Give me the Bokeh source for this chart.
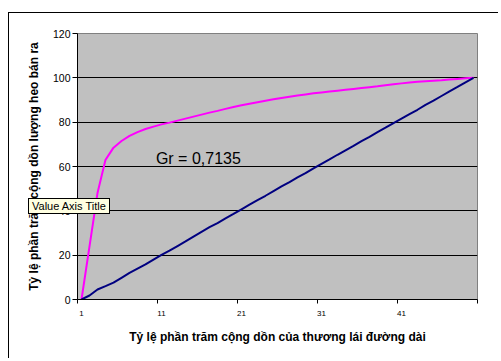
from bokeh.plotting import figure
from bokeh.models import Range1d, FixedTicker, Label, Div
from bokeh.embed import file_html
from bokeh.resources import INLINE

# Categories (cumulative % of long-distance traders, category index)
categories = list(range(1, 51))

# Cumulative % of pigs sold (Lorenz curve)
lorenz = [0, 24, 48, 63, 68.5, 71.5, 73.8, 75.5, 76.9, 78.0,
          79.0, 79.8, 80.7, 81.6, 82.5, 83.4, 84.3, 85.1, 86.0, 86.8,
          87.6, 88.3, 89.0, 89.7, 90.3, 90.9, 91.5, 92.0, 92.5, 93.0,
          93.4, 93.8, 94.2, 94.6, 95.0, 95.4, 95.8, 96.2, 96.7, 97.1,
          97.5, 97.9, 98.2, 98.5, 98.7, 98.9, 99.2, 99.5, 99.8, 100]

# Line of equality
equality = [0, 1.8, 4.5, 6.0, 7.6, 9.8, 12.0, 13.9, 15.8, 18.0,
            20.1, 22.0, 24.1, 26.2, 28.4, 30.5, 32.6, 34.5, 36.6, 38.6,
            40.7, 42.8, 44.8, 46.8, 48.9, 51.0, 53.0, 55.1, 57.0, 59.2,
            61.2, 63.2, 65.3, 67.3, 69.3, 71.4, 73.4, 75.5, 77.5, 79.6,
            81.6, 83.6, 85.6, 87.8, 89.7, 91.8, 93.9, 95.9, 98.0, 100]

x_tick_values = [1, 11, 21, 31, 41]
y_tick_values = [0, 20, 40, 60, 80, 100, 120]

gini_text = "Gr = 0,7135"
x_title = "Tỷ lệ phần trăm cộng dồn của thương lái đường dài"
y_title = "Tỷ lệ phần trăm cộng dồn lượng heo bán ra"
tooltip_text = "Value Axis Title"

tip = Div(text=tooltip_text,
          styles={"position": "absolute", "left": "19px", "top": "185px",
                  "background-color": "#FFFFE1", "border": "1px solid black",
                  "font-family": "'Liberation Sans', Arial, sans-serif",
                  "font-size": "11px", "line-height": "14px",
                  "padding": "0px 3px", "color": "black",
                  "white-space": "nowrap", "z-index": "10"})

p = figure(width=490, height=346, output_backend="svg", toolbar_location=None,
           x_range=Range1d(0.5, 50.5), y_range=Range1d(0, 120),
           min_border_left=68, min_border_right=22, min_border_top=20,
           min_border_bottom=60, margin=(12, 0, 0, 8),
           styles={"border-top": "1px solid black", "border-left": "1px solid black"})
p.elements.append(tip)

p.background_fill_color = "#C0C0C0"
p.border_fill_color = "white"
p.outline_line_color = "#808080"
p.outline_line_width = 1

# y axis
p.yaxis.ticker = FixedTicker(ticks=y_tick_values)
p.yaxis.major_tick_out = 5
p.yaxis.major_tick_in = 0
p.yaxis.minor_tick_out = 0
p.yaxis.minor_tick_in = 0
p.yaxis.major_label_standoff = 2
p.yaxis.major_label_text_font = "Liberation Sans"
p.yaxis.major_label_text_font_size = "10.5px"
p.yaxis.major_label_text_color = "black"
p.yaxis.axis_line_color = "black"
p.yaxis.major_tick_line_color = "black"
p.yaxis.axis_label = y_title
p.yaxis.axis_label_text_font = "Liberation Sans"
p.yaxis.axis_label_text_font_style = "bold"
p.yaxis.axis_label_text_font_size = "12px"
p.yaxis.axis_label_text_color = "black"
p.yaxis.axis_label_standoff = 9

# x axis
p.xaxis.ticker = FixedTicker(ticks=x_tick_values,
                             minor_ticks=[0.5, 10.5, 20.5, 30.5, 40.5, 50.5])
p.xaxis.major_tick_out = 0
p.xaxis.major_tick_in = 0
p.xaxis.minor_tick_out = 4
p.xaxis.minor_tick_in = 0
p.xaxis.minor_tick_line_color = "black"
p.xaxis.major_label_standoff = 7
p.xaxis.major_label_text_font = "Liberation Sans"
p.xaxis.major_label_text_font_size = "8px"
p.xaxis.major_label_text_color = "black"
p.xaxis.axis_line_color = "black"
p.xaxis.axis_label = x_title
p.xaxis.axis_label_text_font = "Liberation Sans"
p.xaxis.axis_label_text_font_style = "bold"
p.xaxis.axis_label_text_font_size = "12px"
p.xaxis.axis_label_text_color = "black"
p.xaxis.axis_label_standoff = 11

# grid
p.xgrid.visible = False
p.ygrid.ticker = FixedTicker(ticks=[20, 40, 60, 80, 100])
p.ygrid.grid_line_color = "black"
p.ygrid.grid_line_width = 1

# series
p.line(categories, lorenz, line_color="#FF00FF", line_width=2)
p.line(categories, equality, line_color="#000080", line_width=2)

p.add_layout(Label(x=10.3, y=63.4, text=gini_text, text_font="Liberation Sans",
                   text_font_size="16px", text_color="black",
                   text_baseline="alphabetic", text_align="left"))

open("out.html", "w").write(file_html(p, INLINE))
